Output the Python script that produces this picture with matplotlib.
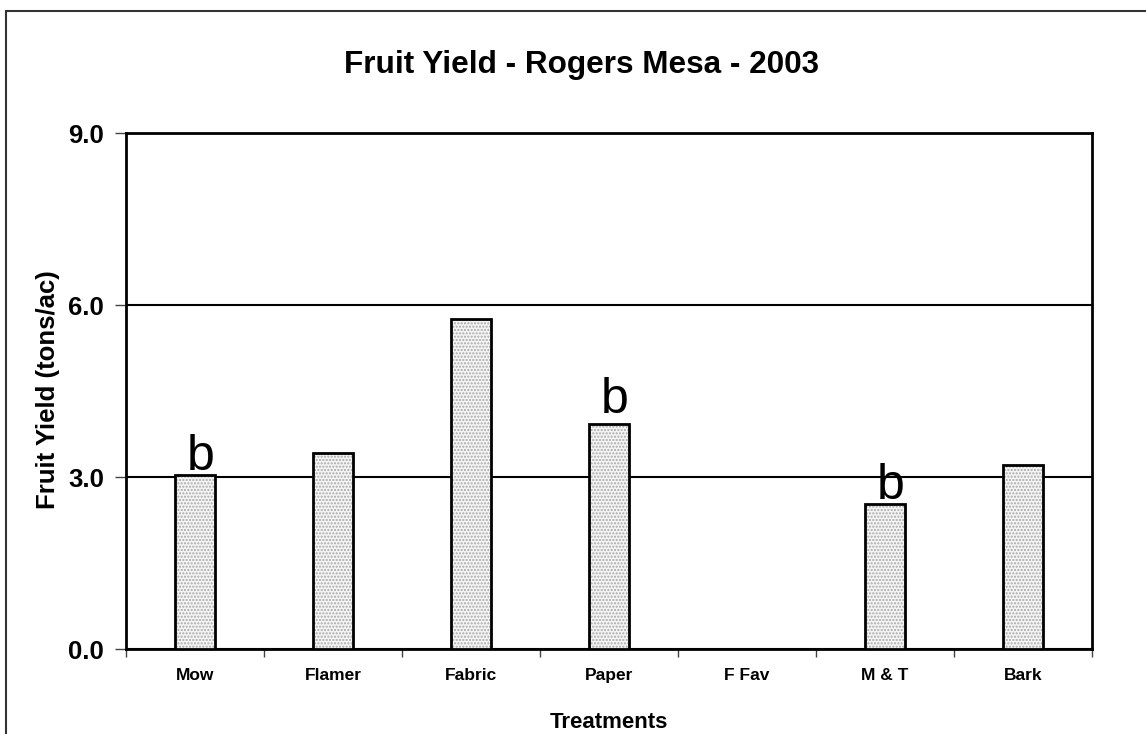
import matplotlib
matplotlib.use("Agg")
import matplotlib.pyplot as plt
from matplotlib.patches import Rectangle
import numpy as np

categories = ["Mow", "Flamer", "Fabric", "Paper", "F Fav", "M & T", "Bark"]
yields = [3.03, 3.42, 5.75, 3.92, 0.0, 2.53, 3.21]
letters = ["b", "", "", "b", "", "b", ""]
letter_y = [2.95, 3.0, 3.0, 3.95, 0.0, 2.45, 3.0]
yticks = [0.0, 3.0, 6.0, 9.0]

plt.rcParams['font.family'] = ['Liberation Sans', 'DejaVu Sans']

fig = plt.figure(figsize=(11.46, 7.34), dpi=100)
ax = fig.add_axes([0.110, 0.1158, 0.843, 0.703])

x = np.arange(len(categories))
w = 0.29
ax.bar(x, yields, width=w, color='#f4f4f4', hatch='.....', edgecolor='#a8a8a8', linewidth=0, zorder=3)
ax.bar(x, yields, width=w, fill=False, edgecolor='black', linewidth=2, zorder=4)

for xi, t, ly in zip(x, letters, letter_y):
    if t:
        ax.text(xi + 0.04, ly, t, ha='center', va='bottom', fontsize=36, zorder=5)

ax.set_xlim(-0.5, len(categories) - 0.5)
ax.set_ylim(0, 9)
ax.set_yticks(yticks)
ax.set_yticklabels([f"{v:.1f}" for v in yticks], fontsize=18.5, fontweight='bold')
ax.yaxis.grid(True, color='black', linewidth=1.5, zorder=1)
ax.set_axisbelow(True)

ax.set_xticks(x)
ax.set_xticklabels(categories, fontsize=12.5, fontweight='bold')
ax.tick_params(axis='x', which='major', length=0, pad=14)
ax.set_xticks(np.arange(len(categories) + 1) - 0.5, minor=True)
ax.tick_params(axis='x', which='minor', length=6, width=1, direction='out', color='#444444')
ax.tick_params(axis='y', which='major', length=8, width=1, direction='out', pad=8, color='#444444')

for s in ax.spines.values():
    s.set_linewidth(2)
    s.set_color('black')

ax.set_xlabel("Treatments", fontsize=16, fontweight='bold')
ax.xaxis.label.set_va('center')
ax.xaxis.set_label_coords(0.5, -0.143)
ax.set_ylabel("Fruit Yield (tons/ac)", fontsize=18.5, fontweight='bold')
ax.yaxis.label.set_va('center')
ax.yaxis.set_label_coords(-0.0807, 0.502)
fig.text(0.5075, 0.912, "Fruit Yield - Rogers Mesa - 2003", ha='center', va='center',
         fontsize=22.7, fontweight='bold')

# outer frame (extends beyond figure at right and bottom)
fig.add_artist(Rectangle((6/1146, -0.05), 1.2, (734-11)/734 + 0.05, transform=fig.transFigure,
                         fill=False, edgecolor='#333333', linewidth=1.5))

fig.savefig("out.png", dpi=100)
